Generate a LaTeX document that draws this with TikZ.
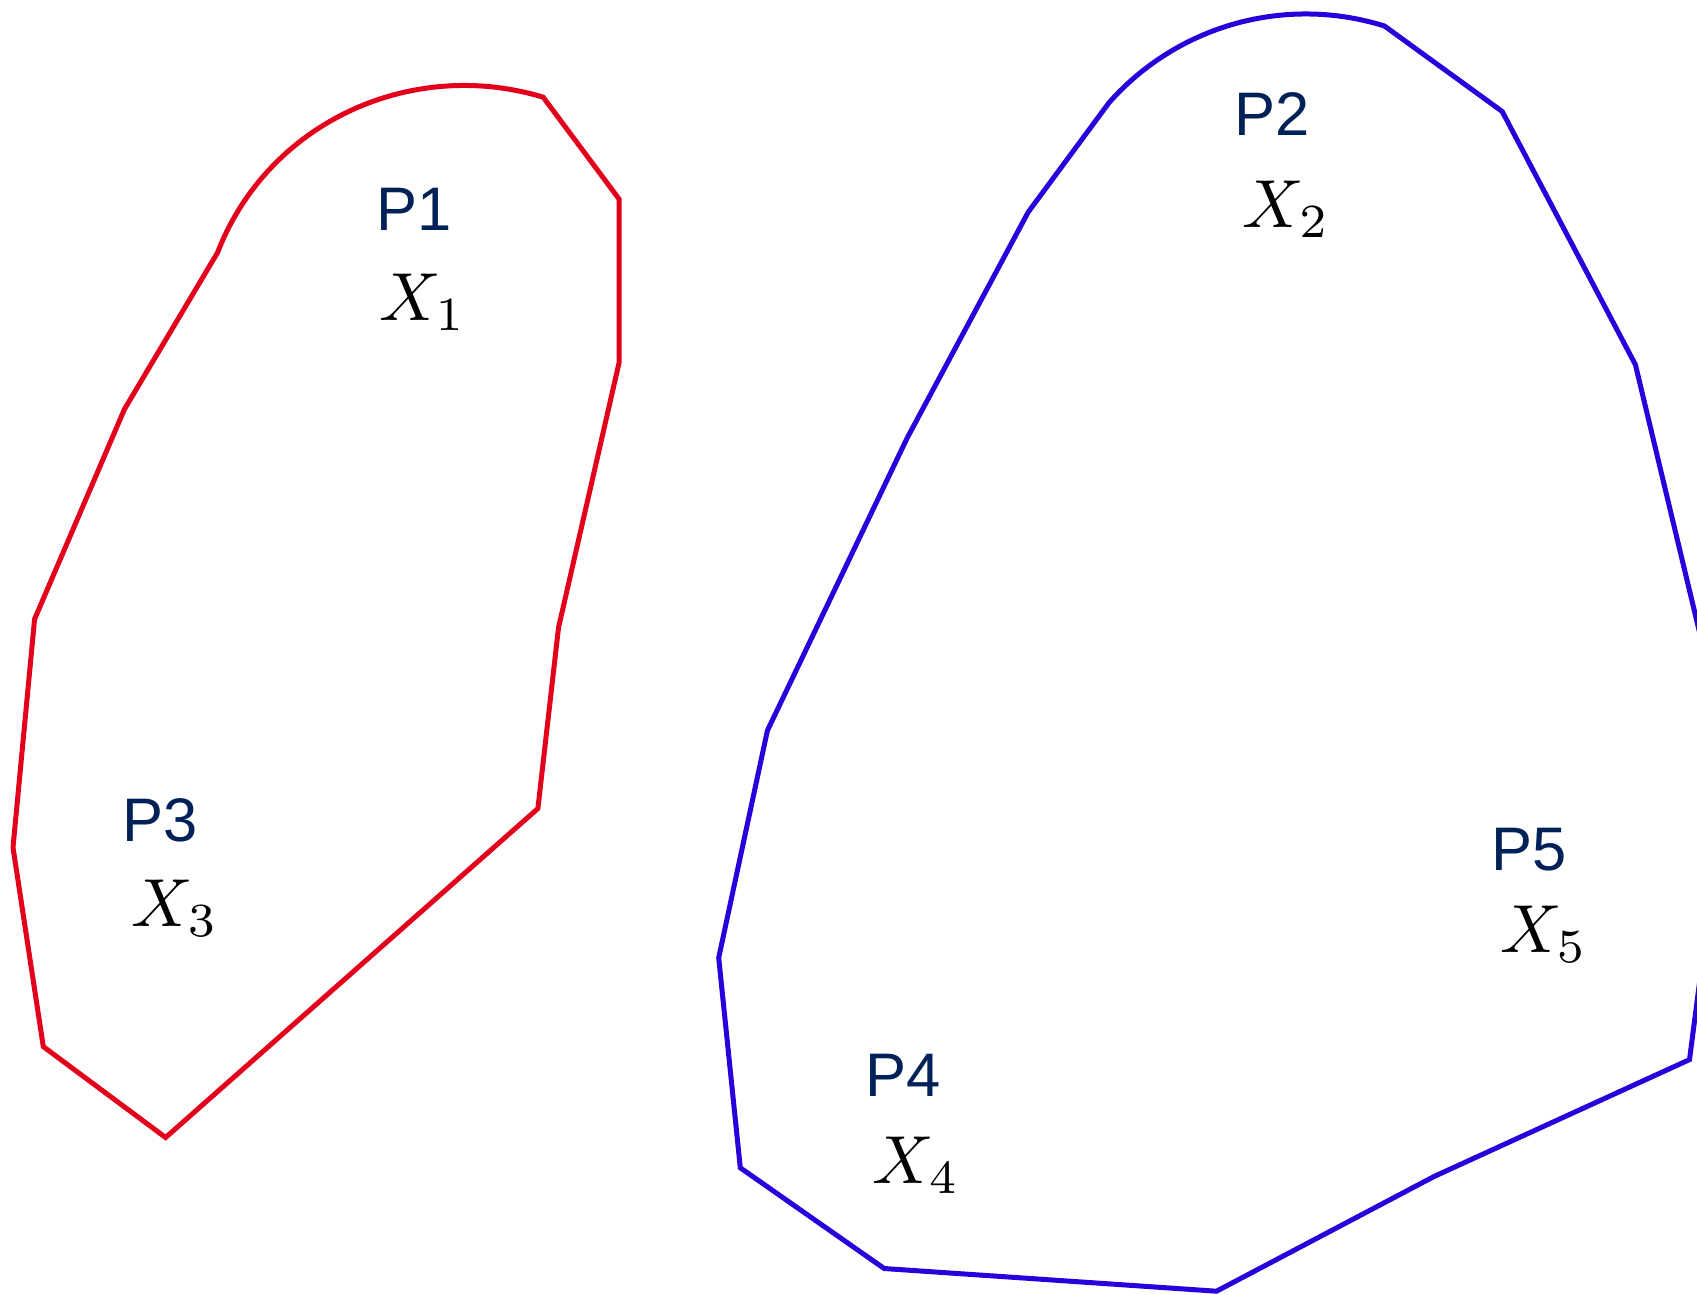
\documentclass[tikz,border=0pt]{standalone}
\usepackage{fontspec}
\setsansfont{Liberation Sans}
\definecolor{redline}{RGB}{226,0,26}
\definecolor{blueline}{RGB}{40,0,220}
\definecolor{navy}{RGB}{0,33,87}
\tikzset{
  region/.style={line width=5pt, line join=miter},
  plabel/.style={inner sep=0pt, anchor=base west, text=navy, font=\sffamily, scale=6.15},
  xlabel/.style={inner sep=0pt, anchor=base west, text=black, scale=6.8}
}
\begin{document}
\begin{tikzpicture}[x=1pt,y=-1pt]
\useasboundingbox (0,0) rectangle (1697,1294);
\begin{scope}
\clip (0,0) rectangle (1697,1294);
% red region
\draw[region, redline] (217.6,252.5) .. controls (267.6,122.8) and (410.5,57) .. (543.2,97.2)
  -- (619.1,199.1) -- (619.1,362.6) -- (558.5,627.7) -- (537.9,808.5)
  -- (165.6,1137.5) -- (43.3,1046.6) -- (13.0,847.4) -- (34.6,619.1)
  -- (124.5,409.1) -- cycle;
% blue region
\draw[region, blueline] (1109,102.7) .. controls (1177.7,25) and (1285.5,-5) .. (1384.5,26)
  -- (1502.2,111.5) -- (1635.4,364.7) -- (1729,755.4) -- (1689.5,1059.6)
  -- (1434,1176.5) -- (1216.5,1291.2) -- (884.2,1268.5) -- (740.3,1167.8)
  -- (718.7,957.8) -- (767.4,730.6) -- (907,438.3) -- (1028.2,212.1) -- cycle;
\end{scope}
% labels
\node[plabel] (p1) at (374.8,230.5) {P1};
\node[xlabel] (x1) at (378,320.4) {$X_1$};
\node[plabel] (p2) at (1233,135.3) {P2};
\node[xlabel] (x2) at (1241.6,227.3) {$X_2$};
\node[plabel] (p3) at (121.5,841) {P3};
\node[xlabel] (x3) at (130.1,926.5) {$X_3$};
\node[plabel] (p4) at (864,1096.4) {P4};
\node[xlabel] (x4) at (871.5,1183) {$X_4$};
\node[plabel] (p5) at (1490.7,870.2) {P5};
\node[xlabel] (x5) at (1499.2,952.4) {$X_5$};
\end{tikzpicture}
\end{document}
